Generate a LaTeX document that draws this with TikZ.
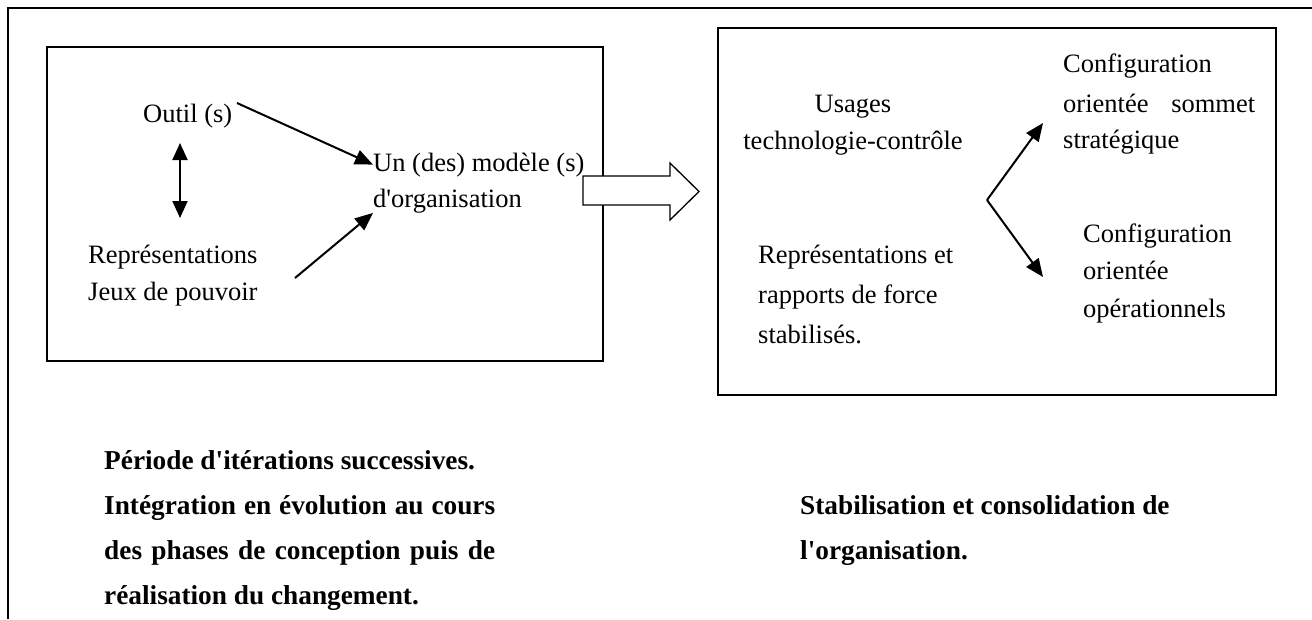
\documentclass[tikz,border=0pt]{standalone}
\usepackage{fontspec}
\setmainfont{Liberation Serif}
\usetikzlibrary{arrows.meta}
\newcommand\ap{\textquotesingle}
\begin{document}
\begin{tikzpicture}[x=1pt,y=-1pt,
  frameline/.style={line width=1.8pt},
  boxline/.style={draw,line width=2pt},
  txt/.style={inner sep=0pt,anchor=base west,font=\fontsize{26.5}{38}\selectfont},
  ctxt/.style={inner sep=0pt,anchor=base,font=\fontsize{26.5}{38}\selectfont},
  btxt/.style={inner sep=0pt,anchor=base west,font=\fontsize{27.3}{45}\selectfont\bfseries},
  arr/.style={line width=2pt,-{Triangle[length=18pt,width=15pt]}},
  darr/.style={line width=2pt,{Triangle[length=17pt,width=15pt]}-{Triangle[length=17pt,width=15pt]}},
  blockarrow/.style={draw,fill=white,line width=1.3pt,line join=miter},
]
\useasboundingbox (0,0) rectangle (1312,619);
% outer frame (top and left only)
\draw[frameline] (8,619) -- (8,8) -- (1312,8);
% boxes
\draw[boxline] (47,47) rectangle (603,361);
\draw[boxline] (718,28) rectangle (1276,395);
% block arrow
\draw[blockarrow] (583,176) -- (670,176) -- (670,163) -- (699,191.5) -- (670,220) -- (670,205) -- (583,205) -- cycle;

% left box texts
\node[txt] (outil) at (143,122) {Outil (s)};
\node[txt] (un) at (373,171) {Un (des) modèle (s)};
\node[txt] (dorg) at (373,207) {d\ap organisation};
\node[txt] (repr) at (88,263) {Représentations};
\node[txt] (jeux) at (88,300) {Jeux de pouvoir};

\coordinate (a1s) at (237,103);
\coordinate (d1) at (180,143);
\coordinate (d2) at (180,218);
\coordinate (a3s) at (295,278);
\draw[arr] (a1s) -- (un.west);
\draw[darr] (d1) -- (d2);
\draw[arr] (a3s) -- (dorg.south west);

% right box texts
\node[ctxt] (usages) at (853,112) {Usages};
\node[ctxt] (techno) at (853,149) {technologie-contrôle};
\node[txt] (r1) at (758,263) {Représentations et};
\node[txt] (r2) at (758,303) {rapports de force};
\node[txt] (r3) at (758,343) {stabilisés.};

\node[txt] (c1a) at (1063,72) {Configuration};
\node[txt] (c1b) at (1063,112) {\makebox[192pt][s]{orientée sommet}};
\node[txt] (c1c) at (1063,148) {stratégique};
\node[txt] (c2a) at (1083,242) {Configuration};
\node[txt] (c2b) at (1083,279) {orientée};
\node[txt] (c2c) at (1083,317) {opérationnels};

\coordinate (v) at (987,200);
\coordinate (t1) at (1043,123);
\coordinate (t2) at (1043,277);
\draw[arr] (v) -- (t1);
\draw[arr] (v) -- (t2);

% bottom bold texts
\node[btxt] (bl1) at (104,469) {Période d\ap itérations successives.};
\node[btxt] (bl2) at (104,514) {\makebox[391pt][s]{Intégration en évolution au cours}};
\node[btxt] (bl3) at (104,559) {\makebox[391pt][s]{des phases de conception puis de}};
\node[btxt] (bl4) at (104,604) {réalisation du changement.};
\node[btxt] (br1) at (800,514) {Stabilisation et consolidation de};
\node[btxt] (br2) at (800,559) {l\ap organisation.};
\end{tikzpicture}
\end{document}
